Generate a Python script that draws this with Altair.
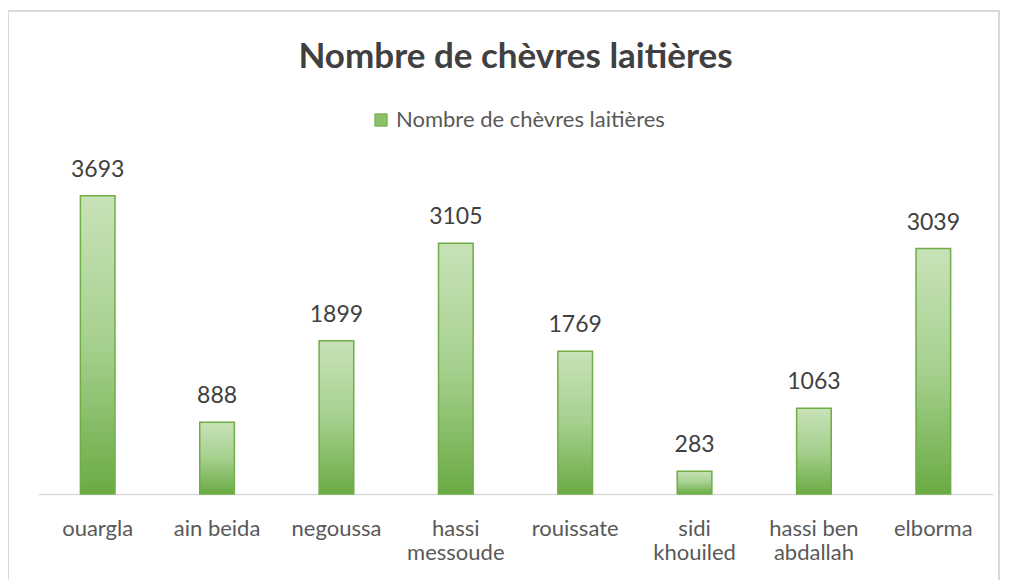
import altair as alt
import pandas as pd

categories = ["ouargla", "ain beida", "negoussa", "hassi messoude", "rouissate",
              "sidi khouiled", "hassi ben abdallah", "elborma"]
values = [3693, 888, 1899, 3105, 1769, 283, 1063, 3039]
series_name = "Nombre de chèvres laitières"
label_lines = {
    "hassi messoude": ["hassi", "messoude"],
    "sidi khouiled": ["sidi", "khouiled"],
    "hassi ben abdallah": ["hassi ben", "abdallah"],
}

df = pd.DataFrame({"cat": categories, "val": values, "series": series_name})

FONT = "Lato"
expr = "datum.label"
for k, v in label_lines.items():
    expr = f"datum.label == '{k}' ? ['{v[0]}', '{v[1]}'] : ({expr})"

x = alt.X("cat:N", sort=categories, title=None,
          scale=alt.Scale(paddingInner=0.71, paddingOuter=0.355),
          axis=alt.Axis(labelAngle=0, ticks=False, labelPadding=24, labelFontSize=22,
                        labelColor="#595959", labelFont=FONT, labelLineHeight=24,
                        domainColor="#d9d9d9", domainWidth=1.5, labelExpr=expr))
y = alt.Y("val:Q", scale=alt.Scale(domain=[0, 4000]), axis=None)

grad = alt.Gradient(gradient="linear", x1=0, x2=0, y1=0, y2=1,
                    stops=[alt.GradientStop(color="#c8e2b8", offset=0),
                           alt.GradientStop(color="#a6d08e", offset=0.5),
                           alt.GradientStop(color="#6aab44", offset=1)])

bars = alt.Chart(df).mark_bar(color=grad, stroke="#70ad47", strokeWidth=1.5).encode(x=x, y=y)

legend_layer = alt.Chart(df).mark_square(opacity=0).encode(
    x=x, y=y,
    color=alt.Color("series:N", scale=alt.Scale(range=["#8cc16a"]), title=None,
                    legend=alt.Legend(orient="none", legendX=332, legendY=-62,
                                      symbolType="square", symbolSize=150,
                                      symbolStrokeColor="#70ad47",
                                      symbolStrokeWidth=1, symbolOpacity=1,
                                      labelFontSize=22, labelColor="#595959", labelFont=FONT,
                                      labelLimit=400)))

texts = alt.Chart(df).mark_text(dy=-26, fontSize=23, color="#404040", font=FONT).encode(
    x=x, y=y, text=alt.Text("val:Q"))

border = alt.Chart(pd.DataFrame({"a": [0]})).mark_rect(
    fillOpacity=0, stroke="#d9d9d9", strokeWidth=2).encode(
    x=alt.value(-30), x2=alt.value(961), y=alt.value(-160), y2=alt.value(430))

chart = alt.layer(border, bars, texts, legend_layer).properties(
    width=955, height=323,
    autosize=alt.AutoSizeParams(type="none"),
    padding={"left": 30, "top": 163, "right": 8, "bottom": 86},
    title=alt.TitleParams(series_name, fontSize=35, fontWeight="bold", color="#404040",
                          font=FONT, anchor="middle", offset=0, baseline="alphabetic", dy=93),
).configure_view(stroke=None)

chart.save("out.html", embed_options={"renderer": "svg", "actions": False})
